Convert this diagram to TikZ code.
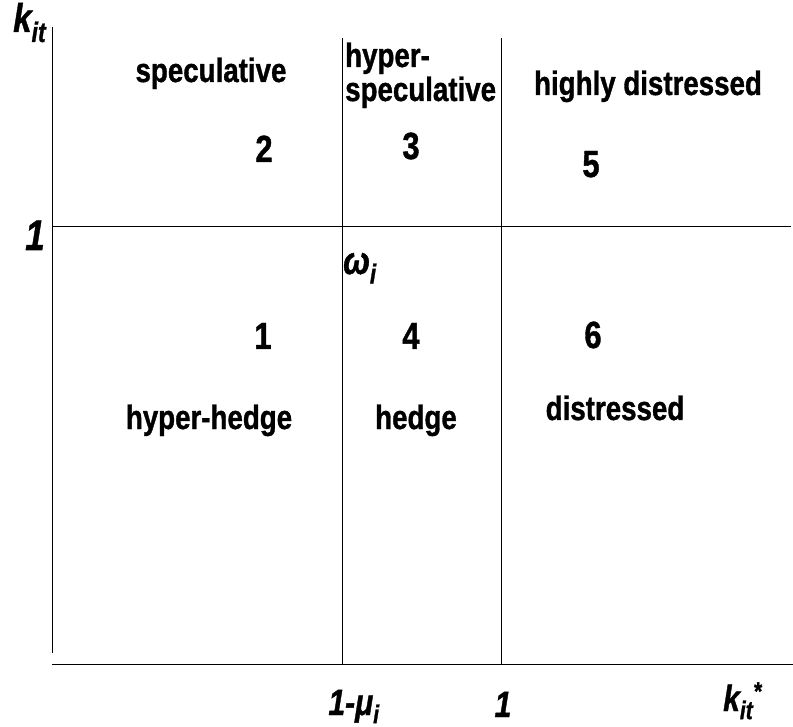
\documentclass[tikz,border=0pt]{standalone}
\usepackage{graphicx}
\usepackage{fontspec}
\setmainfont{Liberation Sans}[BoldFeatures={FakeBold=1.2},BoldItalicFeatures={FakeBold=1.2}]
\newcommand{\vs}[1]{\scalebox{1}[1.22]{#1}}
\begin{document}
\begin{tikzpicture}[x=1pt,y=1pt,
  axisline/.style={line width=1pt, black},
  lbl/.style={font=\fontsize{27.7}{30}\selectfont\bfseries, inner sep=0pt, anchor=base},
  num/.style={font=\fontsize{31}{33}\selectfont\bfseries, inner sep=0pt, anchor=base},
  axlbl/.style={font=\fontsize{30}{32}\selectfont\bfseries\itshape, inner sep=0pt, anchor=base}]
\useasboundingbox (0,0) rectangle (793,-727);
% coordinates
\coordinate (ytop) at (52,-27);
\coordinate (ybot) at (52,-653);
\coordinate (xl) at (52,-664);
\coordinate (xr) at (793,-664);
\coordinate (hl) at (52,-227);
\coordinate (hr) at (791,-227);
\coordinate (v1t) at (342,-38);
\coordinate (v1b) at (342,-664);
\coordinate (v2t) at (501,-38);
\coordinate (v2b) at (501,-664);
% lines
\draw[axisline] (ytop) -- (ybot);
\draw[axisline] (xl) -- (xr);
\draw[axisline] (hl) -- (hr);
\draw[axisline] (v1t) -- (v1b);
\draw[axisline] (v2t) -- (v2b);
% axis labels
\node[axlbl, anchor=base west, font=\fontsize{33}{35}\selectfont\bfseries\itshape] (kit) at (13,-32) {\vs{k\textsubscript{it}}};
\node[axlbl, font=\fontsize{35}{37}\selectfont\bfseries\itshape] (one) at (35,-250) {\vs{1}};
\node[axlbl] (mu) at (354,-715) {\vs{1-μ\textsubscript{i}}};
\node[axlbl] (onex) at (503,-717) {\vs{1}};
\node[axlbl, anchor=base west] (kstar) at (723,-711) {\vs{k\textsubscript{it}\textsuperscript{*}}};
\node[axlbl, anchor=base west, font=\fontsize{32}{34}\selectfont\bfseries\itshape] (omega) at (343,-274) {\vs{ω\textsubscript{i}}};
% region labels
\node[lbl] (spec) at (211,-82) {\vs{speculative}};
\node[lbl, anchor=base west] (hyp1) at (345,-67) {\vs{hyper-}};
\node[lbl, anchor=base west] (hyp2) at (345,-101) {\vs{speculative}};
\node[lbl] (hdist) at (648,-95) {\vs{highly distressed}};
\node[lbl] (hhedge) at (209,-429) {\vs{hyper-hedge}};
\node[lbl] (hedge) at (416,-429) {\vs{hedge}};
\node[lbl] (dist) at (615,-420) {\vs{distressed}};
% numbers
\node[num] (n2) at (264,-162) {\vs{2}};
\node[num] (n3) at (411,-159) {\vs{3}};
\node[num] (n5) at (591,-177) {\vs{5}};
\node[num] (n1) at (263,-349) {\vs{1}};
\node[num] (n4) at (411,-349) {\vs{4}};
\node[num] (n6) at (593,-348) {\vs{6}};
\end{tikzpicture}
\end{document}
